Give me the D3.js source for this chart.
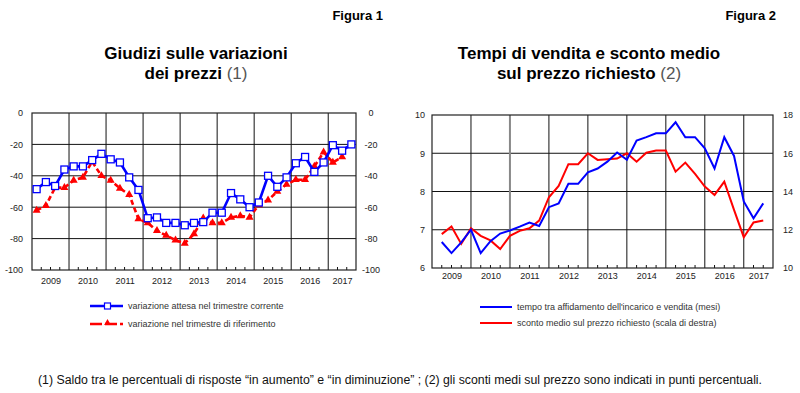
<!DOCTYPE html>
<meta charset="utf-8">
<style>
    body { margin: 0; background: #fff; }
    svg { font-family: "Liberation Sans", Arial, sans-serif; }
    .tick text { fill: #222; font-size: 9px; }
</style>
<div id="chart"></div>
<script src="https://d3js.org/d3.v7.min.js"></script>
<script>

    // quarters 2009 Q1 onwards
    var years = ["2009", "2010", "2011", "2012", "2013", "2014", "2015", "2016", "2017"];

    // Figura 1 - saldo giudizi (left)
    var attesa = [-48.5, -44, -46.5, -36, -34, -34, -30, -26, -29.5, -31.5, -41, -49,
        -67, -66.5, -70, -70, -71.5, -70, -69.5, -63.5, -63.5, -51, -55, -60,
        -57, -40, -47, -41, -32, -28, -37.5, -31.5, -20.5, -24, -20];
    var riferimento = [-62, -59, -47.5, -47.5, -43, -41, -31, -40, -43, -48, -52, -67.5,
        -70, -75, -78, -81, -83, -77, -67, -70, -70, -66.5, -65.5, -66.5,
        -58.5, -55.5, -50, -45.5, -42.5, -42.5, -34, -25, -31.5, -28];
    var ticksL = [0, -20, -40, -60, -80, -100];

    // Figura 2 - tempi di vendita (mesi) e sconto medio (scala di destra)
    var tempo = [6.68, 6.39, 6.67, 7.0, 6.39, 6.7, 6.9, 6.98, 7.08, 7.19, 7.1, 7.59,
        7.69, 8.2, 8.2, 8.5, 8.6, 8.78, 9.02, 8.83, 9.33, 9.42, 9.52, 9.52,
        9.81, 9.42, 9.42, 9.13, 8.6, 9.42, 8.93, 7.74, 7.3, 7.69];
    var sconto = [11.77, 12.17, 11.26, 12.08, 11.68, 11.44, 10.99, 11.68, 11.94, 12.08, 12.48, 13.7,
        14.29, 15.43, 15.43, 16.0, 15.65, 15.69, 15.72, 16.0, 15.56, 16.03, 16.14, 16.14,
        15.04, 15.51, 14.92, 14.26, 13.82, 14.52, 13.04, 11.61, 12.38, 12.48];
    var ticksRL = [6, 7, 8, 9, 10];
    var ticksRR = [10, 12, 14, 16, 18];

    var nq = 35; // 2009Q1 .. 2017Q3
    var plain = function (d) { return String(d); }; // hyphen minus, no decimals

    var svg = d3.select("#chart").append("svg")
        .attr("width", 800)
        .attr("height", 393);

    svg.append("rect").attr("width", 800).attr("height", 393).attr("fill", "#fff");

    // titles
    function title(cx, fig, l1, l2, note) {
        svg.append("text").attr("x", cx + 187).attr("y", 20)
            .attr("text-anchor", "end").attr("font-size", 13).attr("font-weight", "bold")
            .text(fig);
        svg.append("text").attr("x", cx).attr("y", 59)
            .attr("text-anchor", "middle").attr("font-size", 17).attr("font-weight", "bold")
            .text(l1);
        var t = svg.append("text").attr("x", cx).attr("y", 79)
            .attr("text-anchor", "middle").attr("font-size", 17).attr("font-weight", "bold");
        t.append("tspan").text(l2);
        t.append("tspan").attr("font-weight", "normal").attr("fill", "#555").text(note);
    }
    title(196, "Figura 1", "Giudizi sulle variazioni", "dei prezzi ", "(1)");
    title(589, "Figura 2", "Tempi di vendita e sconto medio", "sul prezzo richiesto ", "(2)");

    // common frame: grid, quarter ticks, year labels
    function frame(x, y, gridVals, yearY) {
        var g = svg.append("g");
        var x0 = x.range()[0], x1 = x.range()[1], y0 = y.range()[0], y1 = y.range()[1];
        g.selectAll(".hg").data(gridVals).enter().append("line")
            .attr("x1", x0).attr("x2", x1)
            .attr("y1", function (d) { return y(d); }).attr("y2", function (d) { return y(d); })
            .attr("stroke", "#111").attr("stroke-width", 1);
        g.selectAll(".vg").data(d3.range(4, 33, 4)).enter().append("line")
            .attr("class", "vg")
            .attr("x1", function (d) { return x(d); }).attr("x2", function (d) { return x(d); })
            .attr("y1", y0).attr("y2", y1)
            .attr("stroke", "#111").attr("stroke-width", 1);
        g.selectAll(".qt").data(d3.range(1, nq).filter(function (d) { return d % 4 != 0; })).enter().append("line")
            .attr("x1", function (d) { return x(d); }).attr("x2", function (d) { return x(d); })
            .attr("y1", y0).attr("y2", y0 - 3)
            .attr("stroke", "#111");
        g.append("rect").attr("x", x0).attr("y", y1).attr("width", x1 - x0).attr("height", y0 - y1)
            .attr("fill", "none").attr("stroke", "#222").attr("stroke-width", 1.2);

        var xa = svg.append("g").attr("transform", "translate(0," + y0 + ")")
            .call(d3.axisBottom(x)
                .tickValues(years.map(function (d, i) { return Math.min(i * 4 + 2, 33.5); }))
                .tickFormat(function (d, i) { return years[i]; })
                .tickSize(0).tickPadding(yearY));
        xa.select(".domain").remove();
        return g;
    }

    // ---- left chart
    var xL = d3.scaleLinear().domain([0, nq]).range([32, 356]);
    var yL = d3.scaleLinear().domain([-100, 0]).range([270, 113]);
    frame(xL, yL, [-20, -40, -60, -80], 8);

    var la = svg.append("g").attr("transform", "translate(32,0)")
        .call(d3.axisLeft(yL).tickValues(ticksL).tickFormat(plain).tickSize(0).tickPadding(9));
    la.select(".domain").remove();
    var ra = svg.append("g").attr("transform", "translate(356,0)")
        .call(d3.axisRight(yL).tickValues(ticksL).tickFormat(plain).tickSize(0).tickPadding(15));
    ra.select(".domain").remove();
    ra.selectAll("text").attr("text-anchor", "middle");

    var lineL = d3.line()
        .x(function (d, i) { return xL(i + 0.5); })
        .y(function (d) { return yL(d); });

    svg.append("path").datum(riferimento).attr("d", lineL)
        .attr("fill", "none").attr("stroke", "#ff0000").attr("stroke-width", 2.6)
        .attr("stroke-dasharray", "5,3");
    svg.selectAll(".tri").data(riferimento).enter().append("path")
        .attr("transform", function (d, i) { return "translate(" + xL(i + 0.5) + "," + yL(d) + ")"; })
        .attr("d", d3.symbol().type(d3.symbolTriangle).size(28))
        .attr("fill", "#ff0000");

    svg.append("path").datum(attesa).attr("d", lineL)
        .attr("fill", "none").attr("stroke", "#0000ff").attr("stroke-width", 2.6);
    svg.selectAll(".sq").data(attesa).enter().append("rect")
        .attr("x", function (d, i) { return xL(i + 0.5) - 3.5; })
        .attr("y", function (d) { return yL(d) - 3.5; })
        .attr("width", 7).attr("height", 7)
        .attr("fill", "#fff").attr("stroke", "#0000ff").attr("stroke-width", 1.3);

    // ---- right chart
    var xR = d3.scaleLinear().domain([0, nq]).range([432, 773]);
    var yRL = d3.scaleLinear().domain([6, 10]).range([268, 115]);
    var yRR = d3.scaleLinear().domain([10, 18]).range([268, 115]);
    var gR = frame(xR, yRL, [7, 8, 9], 5);
    gR.selectAll(".vg").filter(function (d) { return d == 8; })
        .attr("stroke", "#888").attr("stroke-width", 2);

    var rla = svg.append("g").attr("transform", "translate(432,0)")
        .call(d3.axisLeft(yRL).tickValues(ticksRL).tickFormat(plain).tickSize(0).tickPadding(7));
    rla.select(".domain").remove();
    var rra = svg.append("g").attr("transform", "translate(773,0)")
        .call(d3.axisRight(yRR).tickValues(ticksRR).tickFormat(plain).tickSize(0).tickPadding(10));
    rra.select(".domain").remove();

    svg.append("path").datum(sconto)
        .attr("d", d3.line().x(function (d, i) { return xR(i + 1); }).y(function (d) { return yRR(d); }))
        .attr("fill", "none").attr("stroke", "#ff0000").attr("stroke-width", 2);
    svg.append("path").datum(tempo)
        .attr("d", d3.line().x(function (d, i) { return xR(i + 1); }).y(function (d) { return yRL(d); }))
        .attr("fill", "none").attr("stroke", "#0000ff").attr("stroke-width", 2);

    // ---- legends
    var leg = svg.append("g").attr("font-size", 9).attr("fill", "#333");
    leg.append("line").attr("x1", 90).attr("x2", 123).attr("y1", 306).attr("y2", 306)
        .attr("stroke", "#0000ff").attr("stroke-width", 2.6);
    leg.append("rect").attr("x", 104.5).attr("y", 303).attr("width", 6).attr("height", 6)
        .attr("fill", "#fff").attr("stroke", "#0000ff").attr("stroke-width", 1.2);
    leg.append("text").attr("x", 128).attr("y", 309).text("variazione attesa nel trimestre corrente");
    leg.append("line").attr("x1", 90).attr("x2", 123).attr("y1", 324).attr("y2", 324)
        .attr("stroke", "#ff0000").attr("stroke-width", 2.6).attr("stroke-dasharray", "12,3");
    leg.append("path").attr("transform", "translate(107.5,323)")
        .attr("d", d3.symbol().type(d3.symbolTriangle).size(20)).attr("fill", "#ff0000");
    leg.append("text").attr("x", 128).attr("y", 327).text("variazione nel trimestre di riferimento");

    leg.append("line").attr("x1", 480).attr("x2", 512).attr("y1", 307).attr("y2", 307)
        .attr("stroke", "#0000ff").attr("stroke-width", 2);
    leg.append("text").attr("x", 517).attr("y", 310).text("tempo tra affidamento dell'incarico e vendita (mesi)");
    leg.append("line").attr("x1", 480).attr("x2", 512).attr("y1", 323).attr("y2", 323)
        .attr("stroke", "#ff0000").attr("stroke-width", 2);
    leg.append("text").attr("x", 517).attr("y", 326).text("sconto medio sul prezzo richiesto (scala di destra)");

    // footnote
    svg.append("text").attr("x", 38).attr("y", 384)
        .attr("font-family", "'Liberation Sans Narrow', 'Arial Narrow', 'Liberation Sans', sans-serif")
        .attr("font-size", 12).attr("fill", "#111")
        .attr("textLength", 724).attr("lengthAdjust", "spacingAndGlyphs")
        .text("(1) Saldo tra le percentuali di risposte \u201cin aumento\u201d e \u201cin diminuzione\u201d ; (2) gli sconti medi sul prezzo sono indicati in punti percentuali.");

</script>
